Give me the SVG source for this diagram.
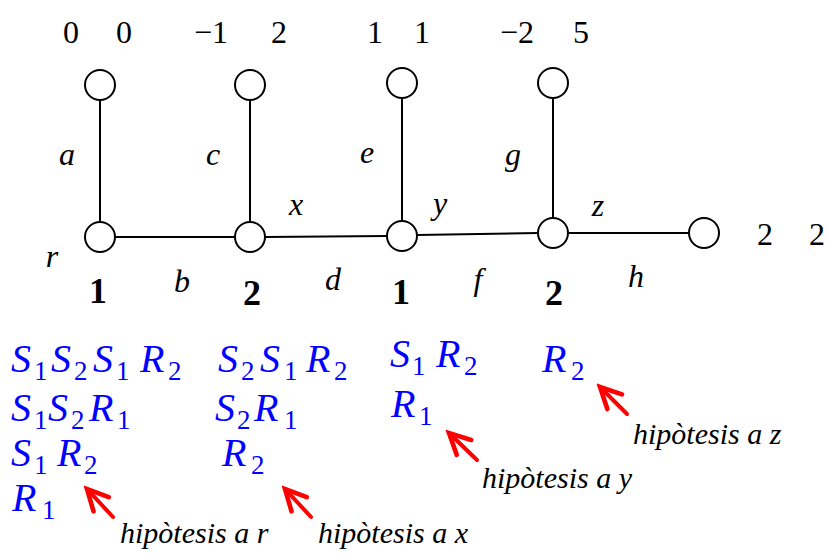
<svg xmlns="http://www.w3.org/2000/svg" width="828" height="555" viewBox="0 0 828 555">
<style>
text{font-family:"Liberation Serif","Times New Roman","DejaVu Serif",serif}
.n{fill:#fff;stroke:#000;stroke-width:2}
.e{stroke:#000;stroke-width:2;fill:none}
.num{font-size:32px;fill:#000;text-anchor:middle}
.bold{font-size:36px;font-weight:bold;fill:#000;text-anchor:middle}
.lab{font-size:32px;font-style:italic;fill:#000;text-anchor:middle}
.m{font-size:40px;font-style:italic;fill:#0000ff}
.s{font-size:27px;font-style:normal;fill:#0000ff}
.h{font-size:30px;font-style:italic;fill:#000}
.arr{stroke:#ff0000;stroke-width:4;fill:none;stroke-linecap:round;marker-end:url(#ah)}
</style>
<defs>
<marker id="ah" markerUnits="userSpaceOnUse" markerWidth="30" markerHeight="30" viewBox="-22 -12 26 24" refX="0" refY="0" orient="auto">
<path d="M-18,-9 L0,0 L-18,9" fill="none" stroke="#ff0000" stroke-width="4" stroke-linecap="round" stroke-linejoin="miter"/>
</marker>
</defs>
<g id="connectors">
<line class="e" x1="100" y1="100" x2="100" y2="222"/>
<line class="e" x1="250" y1="100" x2="250" y2="222"/>
<line class="e" x1="402" y1="98" x2="402" y2="221"/>
<line class="e" x1="553" y1="98" x2="553" y2="218"/>
<line class="e" x1="115" y1="237" x2="235" y2="237"/>
<line class="e" x1="265" y1="237" x2="387" y2="236"/>
<line class="e" x1="417" y1="235" x2="538" y2="233"/>
<line class="e" x1="568" y1="233" x2="689" y2="233"/>
</g>
<g id="edge-labels">
<text class="lab" x="67" y="165">a</text>
<text class="lab" x="213" y="165">c</text>
<text class="lab" x="367" y="163">e</text>
<text class="lab" x="513" y="165">g</text>
<text class="lab" x="296" y="215">x</text>
<text class="lab" x="440" y="214">y</text>
<text class="lab" x="598" y="216">z</text>
<text class="lab" x="52" y="267">r</text>
<text class="lab" x="182" y="292">b</text>
<text class="lab" x="333" y="290">d</text>
<text class="lab" x="478" y="290">f</text>
<text class="lab" x="636" y="287">h</text>
</g>
<g id="leaf-a"><circle class="n" cx="100" cy="85" r="15"/><text class="num" x="71" y="43">0</text><text class="num" x="124" y="43">0</text></g>
<g id="leaf-c"><circle class="n" cx="250" cy="85" r="15"/><text class="num" x="211" y="43">−1</text><text class="num" x="279" y="43">2</text></g>
<g id="leaf-e"><circle class="n" cx="402" cy="83" r="15"/><text class="num" x="375" y="43">1</text><text class="num" x="422" y="43">1</text></g>
<g id="leaf-g"><circle class="n" cx="553" cy="83" r="15"/><text class="num" x="517" y="43">−2</text><text class="num" x="581" y="43">5</text></g>
<g id="leaf-h"><circle class="n" cx="704" cy="233" r="15"/><text class="num" x="765" y="245">2</text><text class="num" x="817" y="245">2</text></g>
<g id="node-r"><circle class="n" cx="100" cy="237" r="15"/><text class="bold" x="98" y="303">1</text></g>
<g id="node-x"><circle class="n" cx="250" cy="237" r="15"/><text class="bold" x="252" y="305">2</text></g>
<g id="node-y"><circle class="n" cx="402" cy="236" r="15"/><text class="bold" x="401" y="304">1</text></g>
<g id="node-z"><circle class="n" cx="553" cy="233" r="15"/><text class="bold" x="554" y="305">2</text></g>
<g id="col-r">
<text class="m" y="372"><tspan x="11">S</tspan><tspan class="s" x="34" y="380">1</tspan><tspan x="51" y="372">S</tspan><tspan class="s" x="74" y="380">2</tspan><tspan x="93" y="372">S</tspan><tspan class="s" x="116" y="380">1</tspan><tspan x="140" y="372">R</tspan><tspan class="s" x="168" y="380">2</tspan></text>
<text class="m" y="421"><tspan x="11">S</tspan><tspan class="s" x="34" y="429">1</tspan><tspan x="48" y="421">S</tspan><tspan class="s" x="71" y="429">2</tspan><tspan x="89" y="421">R</tspan><tspan class="s" x="117" y="429">1</tspan></text>
<text class="m" y="466"><tspan x="11">S</tspan><tspan class="s" x="34" y="474">1</tspan><tspan x="57" y="466">R</tspan><tspan class="s" x="84" y="474">2</tspan></text>
<text class="m" y="511"><tspan x="12">R</tspan><tspan class="s" x="42" y="519">1</tspan></text>
</g>
<g id="col-x">
<text class="m" y="372"><tspan x="218">S</tspan><tspan class="s" x="241" y="380">2</tspan><tspan x="260" y="372">S</tspan><tspan class="s" x="284" y="380">1</tspan><tspan x="306" y="372">R</tspan><tspan class="s" x="334" y="380">2</tspan></text>
<text class="m" y="421"><tspan x="215">S</tspan><tspan class="s" x="237" y="429">2</tspan><tspan x="254" y="421">R</tspan><tspan class="s" x="284" y="429">1</tspan></text>
<text class="m" y="466"><tspan x="222">R</tspan><tspan class="s" x="251" y="474">2</tspan></text>
</g>
<g id="col-y">
<text class="m" y="367"><tspan x="390">S</tspan><tspan class="s" x="412" y="375">1</tspan><tspan x="436" y="367">R</tspan><tspan class="s" x="464" y="375">2</tspan></text>
<text class="m" y="417"><tspan x="391">R</tspan><tspan class="s" x="419" y="425">1</tspan></text>
</g>
<g id="col-z">
<text class="m" y="372"><tspan x="542">R</tspan><tspan class="s" x="571" y="380">2</tspan></text>
</g>
<g id="arrows">
<line class="arr" x1="113" y1="517" x2="87" y2="489"/>
<line class="arr" x1="311" y1="517" x2="285" y2="489"/>
<line class="arr" x1="477" y1="460" x2="449" y2="433"/>
<line class="arr" x1="627" y1="414" x2="600" y2="387"/>
</g>
<g id="notes">
<text class="h" x="120" y="543">hipòtesis a r</text>
<text class="h" x="318" y="543">hipòtesis a x</text>
<text class="h" x="482" y="488">hipòtesis a y</text>
<text class="h" x="633" y="444">hipòtesis a z</text>
</g>
</svg>
